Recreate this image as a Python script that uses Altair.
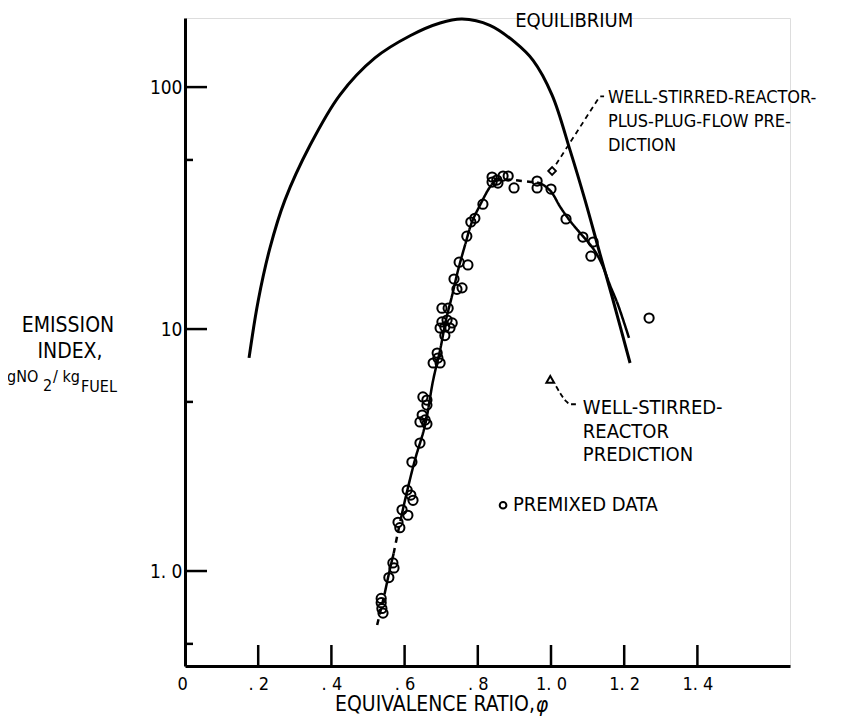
import altair as alt
import pandas as pd

# ---------------- data ----------------
# Equilibrium curve
eq_phi = [0.175, 0.200, 0.232, 0.273, 0.342, 0.423, 0.519, 0.615, 0.697, 0.757,
          0.833, 0.902, 0.951, 1.003, 1.052, 1.093, 1.134, 1.167, 1.216]
eq_ei = [7.6, 13.1, 21.6, 34.1, 57.6, 92.7, 132, 163, 184, 191,
         180, 153, 129, 92.7, 54.9, 34.1, 20.4, 13.6, 7.24]

# Curve faired through the premixed data (segments: dashed / solid)
fit_phi = [0.525, 0.545,
           0.545, 0.560, 0.570,
           0.570, 0.582, 0.590,
           0.590, 0.601, 0.628, 0.656, 0.678, 0.697, 0.713, 0.730, 0.746, 0.765, 0.784, 0.806, 0.830, 0.845,
           0.845, 0.874, 0.915, 0.962,
           0.962, 0.974, 1.000, 1.025, 1.052, 1.079, 1.100, 1.120, 1.140, 1.161, 1.183, 1.213]
fit_ei = [0.598, 0.80,
          0.80, 1.02, 1.18,
          1.18, 1.45, 1.65,
          1.65, 1.96, 2.87, 4.01, 6.15, 8.19, 10.9, 13.8, 17.5, 22.2, 27.7, 32.5, 38.0, 40.8,
          40.8, 41.5, 41.0, 40.3,
          40.3, 39.8, 37.0, 32.0, 28.0, 25.0, 23.0, 21.0, 18.4, 15.2, 12.6, 9.2]
fit_seg = [0, 0,
           1, 1, 1,
           2, 2, 2,
           3, 3, 3, 3, 3, 3, 3, 3, 3, 3, 3, 3, 3, 3,
           4, 4, 4, 4,
           5, 5, 5, 5, 5, 5, 5, 5, 5, 5, 5, 5]
seg_style = ["dashed", "solid", "dashed", "solid", "dashed", "solid"]

# Premixed data points
data_phi = [0.536, 0.536, 0.538, 0.541, 0.557, 0.568, 0.571, 0.582, 0.587, 0.593,
            0.609, 0.607, 0.617, 0.623, 0.620, 0.642, 0.648, 0.656, 0.642, 0.661,
            0.650, 0.661, 0.661, 0.689, 0.691, 0.678, 0.697, 0.702, 0.716, 0.730,
            0.697, 0.710, 0.724, 0.710, 0.702, 0.719, 0.735, 0.743, 0.757, 0.749,
            0.773, 0.770, 0.781, 0.792, 0.814, 0.839, 0.852, 0.839, 0.869, 0.883,
            0.855, 0.899, 0.962, 0.962, 1.000, 1.041, 1.087, 1.115, 1.109, 1.268]
data_ei = [0.77, 0.74, 0.70, 0.67, 0.94, 1.08, 1.03, 1.59, 1.51, 1.79,
           1.70, 2.16, 2.06, 1.96, 2.82, 3.38, 4.41, 4.21, 4.13, 4.05,
           5.24, 5.09, 4.85, 7.96, 7.59, 7.24, 7.24, 10.7, 10.9, 10.6,
           10.1, 10.2, 10.1, 9.4, 12.2, 12.2, 16.1, 14.6, 14.8, 18.9,
           18.4, 24.2, 27.7, 28.7, 32.8, 42.5, 41.3, 40.5, 42.9, 42.9,
           40.1, 38.3, 40.9, 38.3, 37.9, 28.5, 24.0, 22.9, 20.0, 11.1]

# Model predictions
wsr_phi, wsr_ei = [0.998], [6.2]
wsrpf_phi, wsrpf_ei = [1.003], [45.0]

# Leader lines
lead_pf_phi = [1.014, 1.126, 1.134, 1.145]
lead_pf_ei = [48.0, 88.0, 91.5, 91.5]
lead_wsr_phi = [1.014, 1.041, 1.052, 1.068]
lead_wsr_ei = [5.8, 5.04, 4.89, 4.89]

# Axes
x_label_vals = [0, 0.2, 0.4, 0.6, 0.8, 1.0, 1.2, 1.4]
x_tick_vals = [0.2, 0.4, 0.6, 0.8, 1.0, 1.2, 1.4]
y_major = [1, 10, 100]
y_minor = [0.5, 5, 50]

# ---------------- chart ----------------
W, H = 605, 648
FONT = "Liberation Sans Narrow, DejaVu Sans Condensed, Arial Narrow, Liberation Sans, sans-serif"

xs = alt.Scale(domain=[0, 1.653], nice=False, zero=False)
ys = alt.Scale(type="log", domain=[0.405, 193], nice=False)

xaxis = alt.Axis(values=x_label_vals, ticks=False, tickSize=0, grid=False, title=None,
                 domainWidth=3, domainColor="black", labelFont=FONT, labelFontSize=18,
                 labelColor="black", labelPadding=9,
                 labelOffset={"condition": {"test": "datum.value === 0", "value": -8}, "value": 0},
                 labelExpr="datum.value == 0 ? '0' : datum.value < 1 ? replace(substring(format(datum.value, '.1f'), 1), '.', '. ') : replace(format(datum.value, '.1f'), '.', '. ')")
yaxis = alt.Axis(values=y_major, ticks=False, tickSize=0, grid=False, title=None,
                 domainWidth=3, domainColor="black", labelFont=FONT, labelFontSize=19,
                 labelColor="black", labelPadding=3,
                 labelExpr="datum.value == 1 ? '1. 0' : format(datum.value, 'd')")

X = alt.X("phi:Q", scale=xs, axis=xaxis)
Y = alt.Y("ei:Q", scale=ys, axis=yaxis)

eq_df = pd.DataFrame({"phi": eq_phi, "ei": eq_ei})
fit_df = pd.DataFrame({"phi": fit_phi, "ei": fit_ei, "seg": fit_seg,
                       "style": [seg_style[s] for s in fit_seg]})
pts_df = pd.DataFrame({"phi": data_phi, "ei": data_ei})

eq_line = alt.Chart(eq_df).mark_line(color="black", strokeWidth=3, interpolate="catmull-rom").encode(x=X, y=Y)

fit_line = alt.Chart(fit_df).mark_line(color="black", strokeWidth=2.5, interpolate="catmull-rom").encode(
    x=X, y=Y, detail="seg:N",
    strokeDash=alt.StrokeDash("style:N", scale=alt.Scale(domain=["solid", "dashed"], range=[[1, 0], [6, 5]]), legend=None))

pts = alt.Chart(pts_df).mark_point(shape="circle", filled=False, color="black", size=85, strokeWidth=2, opacity=1).encode(x=X, y=Y)

wsr = alt.Chart(pd.DataFrame({"phi": wsr_phi, "ei": wsr_ei})).mark_point(
    shape="triangle-up", filled=False, color="black", size=60, strokeWidth=2, opacity=1).encode(x=X, y=Y)
wsrpf = alt.Chart(pd.DataFrame({"phi": wsrpf_phi, "ei": wsrpf_ei})).mark_point(
    shape="diamond", filled=False, color="black", size=60, strokeWidth=1.8, opacity=1).encode(x=X, y=Y)

lead1 = alt.Chart(pd.DataFrame({"phi": lead_pf_phi, "ei": lead_pf_ei})).mark_line(
    color="black", strokeWidth=1.8, strokeDash=[5, 4]).encode(x=X, y=Y)
lead2 = alt.Chart(pd.DataFrame({"phi": lead_wsr_phi, "ei": lead_wsr_ei})).mark_line(
    color="black", strokeWidth=1.8, strokeDash=[5, 3], interpolate="monotone").encode(x=X, y=Y)

# ticks drawn inward
xt = alt.Chart(pd.DataFrame({"phi": x_tick_vals})).mark_rule(color="black", strokeWidth=2.5).encode(
    x=X, y=alt.value(H), y2=alt.value(H - 21))
ytM = alt.Chart(pd.DataFrame({"ei": y_major})).mark_rule(color="black", strokeWidth=2.5).encode(
    y=Y, x=alt.value(0), x2=alt.value(22))
ytm = alt.Chart(pd.DataFrame({"ei": y_minor})).mark_rule(color="black", strokeWidth=2.5).encode(
    y=Y, x=alt.value(0), x2=alt.value(8))

# annotations in data coordinates
ann_df = pd.DataFrame({
    "phi": [0.902, 1.087, 1.087, 1.087, 0.896],
    "ei": [188, 4.71, 3.75, 3.01, 1.87],
    "txt": ["EQUILIBRIUM", "WELL-STIRRED-", "REACTOR", "PREDICTION", "PREMIXED DATA"],
})
ann = alt.Chart(ann_df).mark_text(align="left", baseline="middle", font=FONT, fontSize=20, color="black").encode(
    x=X, y=Y, text="txt:N")
ann2_df = pd.DataFrame({
    "phi": [1.156, 1.156, 1.156],
    "ei": [90.3, 71.8, 57.0],
    "txt": ["WELL-STIRRED-REACTOR-", "PLUS-PLUG-FLOW PRE-", "DICTION"],
})
ann2 = alt.Chart(ann2_df).mark_text(align="left", baseline="middle", font=FONT, fontSize=18, color="black").encode(
    x=X, y=Y, text="txt:N")
legend_pt = alt.Chart(pd.DataFrame({"phi": [0.869], "ei": [1.87]})).mark_point(
    shape="circle", filled=False, color="black", size=45, strokeWidth=2, opacity=1).encode(x=X, y=Y)

# axis titles (outside the plot area, pixel placed)
def ptext(txt, x, y, size, align="center", style="normal"):
    return alt.Chart(pd.DataFrame({"t": [txt]})).mark_text(
        align=align, baseline="middle", font=FONT, fontSize=size, color="black", fontStyle=style).encode(
        x=alt.value(x), y=alt.value(y), text="t:N")

titles = [
    ptext("EMISSION", -117, 308, 21),
    ptext("INDEX,", -115, 334, 21),
    ptext("gNO", -178, 359, 16, "left"),
    ptext("2", -142, 368, 16, "left"),
    ptext("/ kg", -132, 359, 16, "left"),
    ptext("FUEL", -104, 369, 16, "left"),
    ptext("EQUIVALENCE RATIO,", 250, 687, 21),
    ptext("φ", 357, 688, 21, "center", "italic"),
]

chart = alt.layer(eq_line, fit_line, lead1, lead2, xt, ytM, ytm, pts, wsr, wsrpf, ann, ann2, legend_pt, *titles).properties(
    width=W, height=H,
    autosize=alt.AutoSizeParams(type="none"),
    padding={"left": 177, "top": 10, "right": 40, "bottom": 52},
).configure_view(stroke=None).configure(background="white")

chart.save("out.html", embed_options={"renderer": "svg", "actions": False})
